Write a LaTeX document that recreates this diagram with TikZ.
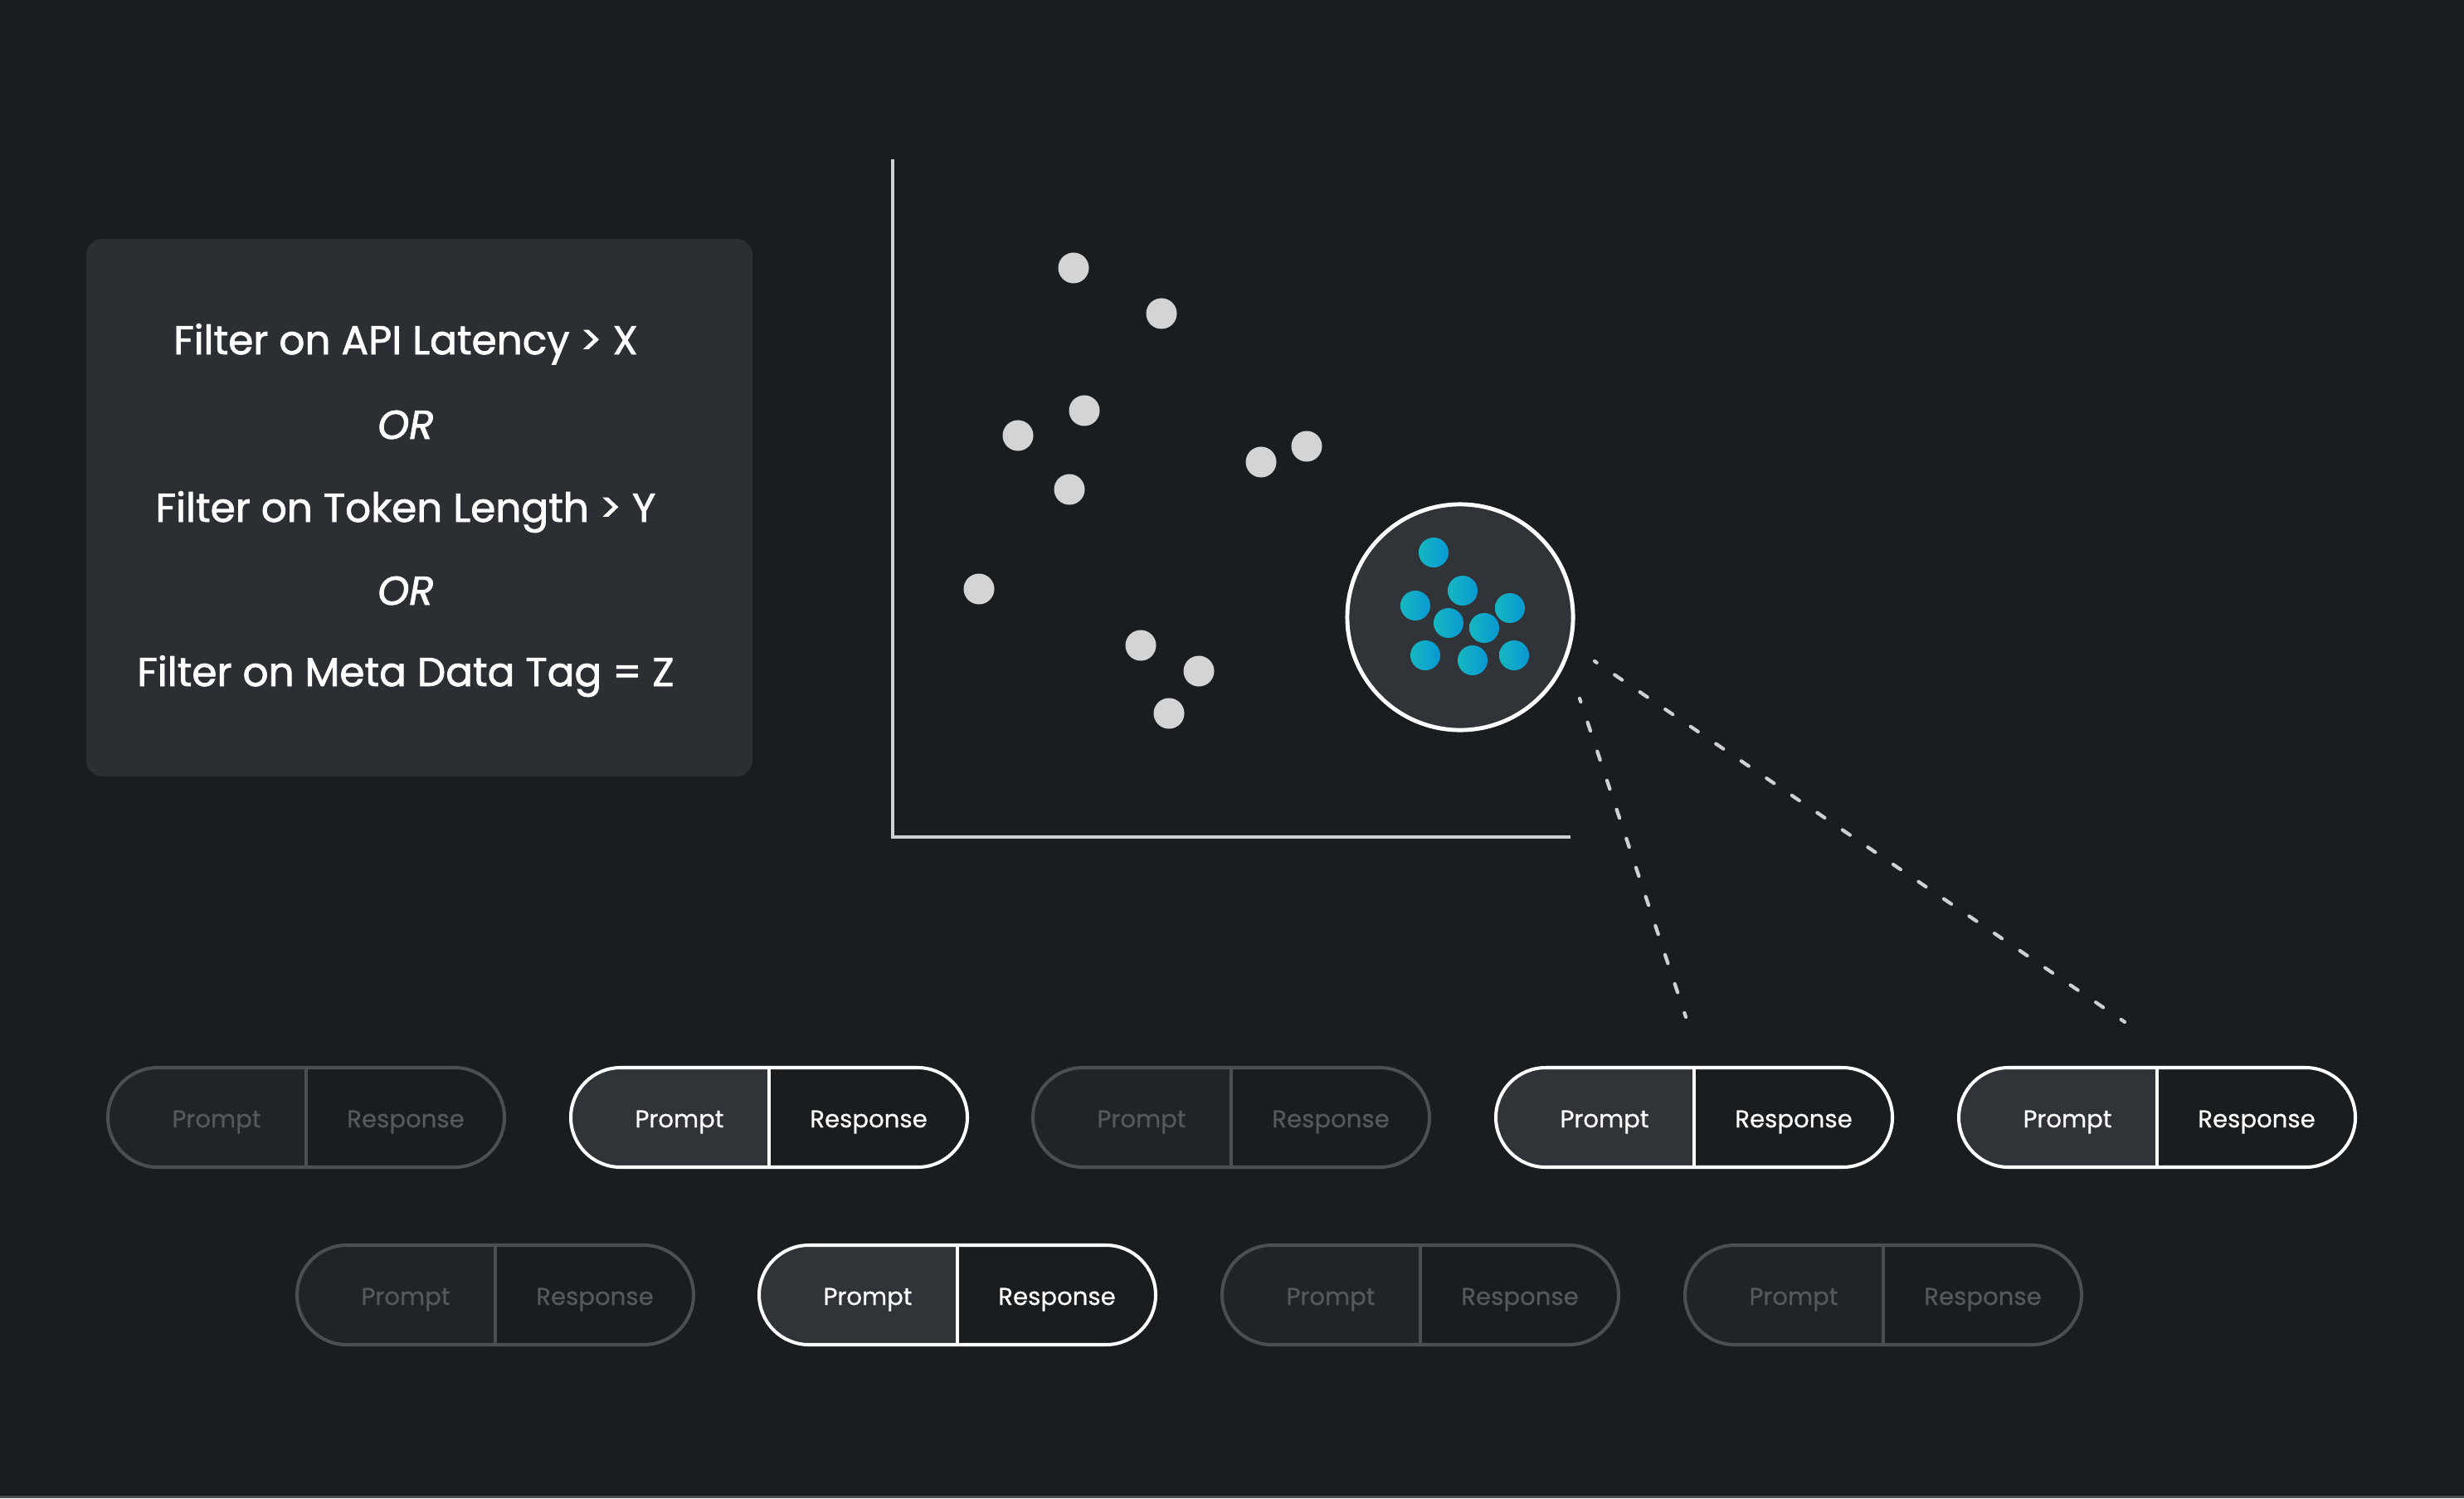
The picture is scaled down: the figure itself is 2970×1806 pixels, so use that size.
\documentclass[tikz,border=0pt]{standalone}
\usepackage{fontspec}
\setmainfont{Poppins}
\newfontfamily\medfont{Poppins}[FakeBold=1.6]
\newfontfamily\pillfont{Poppins}[FakeBold=0.6]
\definecolor{bg}{HTML}{1A1D20}
\definecolor{boxc}{HTML}{2B2E32}
\definecolor{circfill}{HTML}{303337}
\definecolor{dotc}{HTML}{D3D4D6}
\definecolor{axisc}{HTML}{CFD0D2}
\definecolor{hlfill}{HTML}{303338}
\definecolor{dimfill}{HTML}{202327}
\definecolor{dimline}{HTML}{4B4F53}
\definecolor{dimtext}{HTML}{55595D}
\definecolor{tealc}{HTML}{17B7C2}
\definecolor{bluec}{HTML}{00ACEC}
\definecolor{blued}{HTML}{0898D2}
\definecolor{stripc}{HTML}{4A4D50}
\newcommand\mypill[6]{%
  \begin{scope}[shift={(#2,#3)}]
    \coordinate (#1) at (0,0);
    \fill[#4] (0,-60) -- (-179,-60) arc[start angle=90, end angle=270, radius=0.6cm] -- (0,60) -- cycle;
    \draw[pillline, #5] (-239,-60) rectangle (239,60);
    \draw[pilldiv, #5] (0,-60) -- (0,60);
    \node[pilltxt, text=#6] (#1p) at (-108,12) {Prompt};
    \node[pilltxt, text=#6] (#1r) at (120,12) {Response};
  \end{scope}}
\begin{document}
\begin{tikzpicture}[x=0.01cm, y=-0.01cm,
  filterbox/.style={fill=boxc, rounded corners=0.2cm, minimum width=8.03cm, minimum height=6.48cm, inner sep=0pt},
  filtertxt/.style={text=white, font=\medfont\fontsize{13.8}{16}\selectfont, anchor=base, inner sep=0pt},
  gdot/.style={circle, fill=dotc, minimum size=0.37cm, inner sep=0pt},
  bdot/.style={circle, left color=tealc, middle color=bluec, right color=blued, minimum size=0.36cm, inner sep=0pt},
  cluster/.style={circle, fill=circfill, draw=white, line width=1.4pt, minimum size=2.72cm, inner sep=0pt},
  axisline/.style={draw=axisc, line width=1.15pt, line join=miter},
  dashline/.style={draw=axisc, line width=1.2pt, line cap=round, dash pattern=on 3.1pt off 7.4pt, dash phase=1.6pt},
  pillline/.style={line width=1.15pt, rounded corners=0.6cm},
  pilldiv/.style={line width=1.15pt},
  pilltxt/.style={font=\pillfont\fontsize{8.3}{10}\selectfont, anchor=base, inner sep=0pt}
]
\fill[bg] (0,0) rectangle (2970,1806);
\useasboundingbox (0,0) rectangle (2970,1806);
\fill[stripc] (0,1803) rectangle (2970,1806);

% filter box
\node[filterbox] (box) at (505.5,612) {};
\node[filtertxt] (f1) at (489,427) {Filter on API Latency > X};
\node[filtertxt] (f2) at (489,529) {\itshape OR};
\node[filtertxt] (f3) at (489,629) {Filter on Token Length > Y};
\node[filtertxt] (f4) at (489,729) {\itshape OR};
\node[filtertxt] (f5) at (489,827) {Filter on Meta Data Tag = Z};

% axes
\coordinate (ytop) at (1076,192);
\coordinate (origin) at (1076,1009);
\coordinate (xend) at (1893,1009);
\draw[axisline] (ytop) -- (origin) -- (xend);

% grey points
\node[gdot] (g1) at (1294,323) {};
\node[gdot] (g2) at (1400,378) {};
\node[gdot] (g3) at (1307,495) {};
\node[gdot] (g4) at (1227,525) {};
\node[gdot] (g5) at (1289,590) {};
\node[gdot] (g6) at (1520,557) {};
\node[gdot] (g7) at (1575,538) {};
\node[gdot] (g8) at (1180,710) {};
\node[gdot] (g9) at (1375,778) {};
\node[gdot] (g10) at (1445,809) {};
\node[gdot] (g11) at (1409,860) {};

% cluster
\node[cluster] (cl) at (1760,744) {};
\node[bdot] (b1) at (1728,666) {};
\node[bdot] (b2) at (1763,712) {};
\node[bdot] (b3) at (1706,730) {};
\node[bdot] (b4) at (1820,733) {};
\node[bdot] (b5) at (1746,751) {};
\node[bdot] (b6) at (1789,757) {};
\node[bdot] (b7) at (1718,790) {};
\node[bdot] (b8) at (1775,796) {};
\node[bdot] (b9) at (1825,790) {};

% zoom lines
\coordinate (d1a) at (1904,842);
\coordinate (d1b) at (2032,1226);
\coordinate (d2a) at (1922,797);
\coordinate (d2b) at (2561,1232);
\draw[dashline] (d1b) -- (d1a);
\draw[dashline] (d2b) -- (d2a);

% pills row 1
\mypill{p1}{369}{1347}{dimfill}{dimline}{dimtext}
\mypill{p2}{927}{1347}{hlfill}{white}{white}
\mypill{p3}{1484}{1347}{dimfill}{dimline}{dimtext}
\mypill{p4}{2042}{1347}{hlfill}{white}{white}
\mypill{p5}{2600}{1347}{hlfill}{white}{white}
% pills row 2
\mypill{q1}{597}{1561}{dimfill}{dimline}{dimtext}
\mypill{q2}{1154}{1561}{hlfill}{white}{white}
\mypill{q3}{1712}{1561}{dimfill}{dimline}{dimtext}
\mypill{q4}{2270}{1561}{dimfill}{dimline}{dimtext}
\end{tikzpicture}
\end{document}
